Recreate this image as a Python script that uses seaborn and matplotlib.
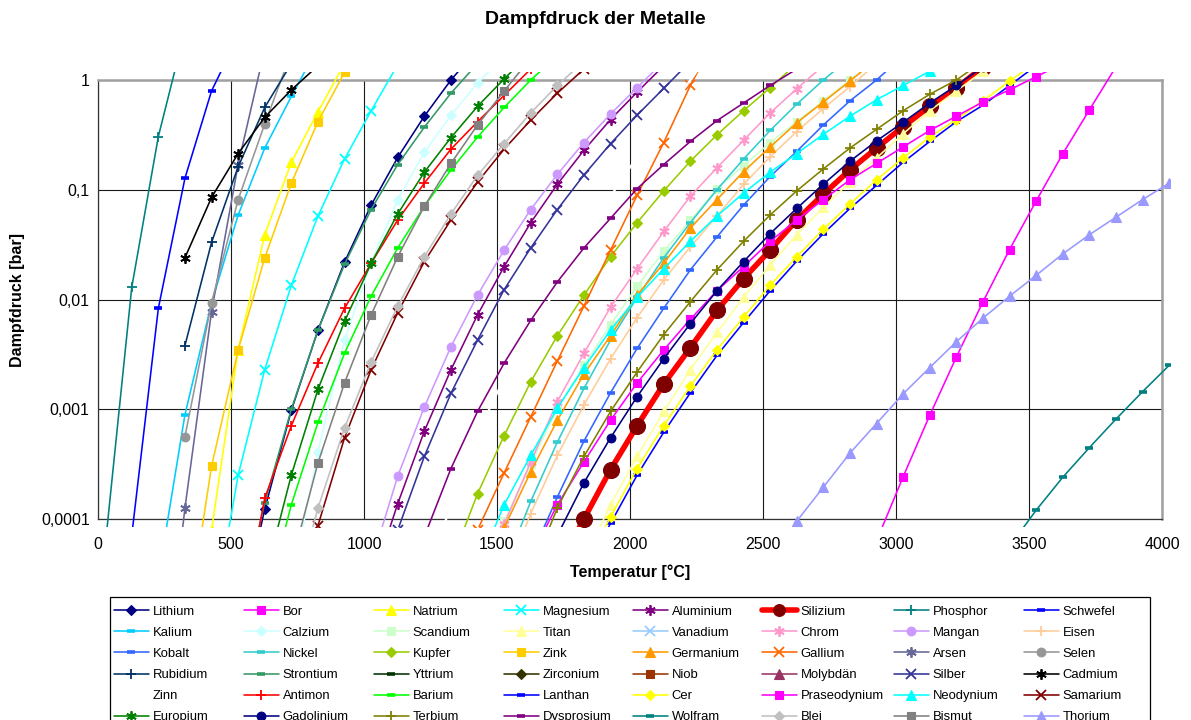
import matplotlib
matplotlib.use("Agg")
import numpy as np
import pandas as pd
import matplotlib.pyplot as plt
import seaborn as sns
from matplotlib.lines import Line2D
from matplotlib.patches import Rectangle

# ---------------------------------------------------------------
# Data: log10 of vapour pressure [bar], one value every 100 K,
# starting at the temperature given in START_K (Kelvin)
# ---------------------------------------------------------------
lithium = [-5.0, -3.91, -3.01, -2.28, -1.66, -1.14, -0.705, -0.33, 0.0, 0.28]
bor = [-4.2, -3.615, -3.055, -2.525, -2.021, -1.545, -1.103, -0.673, -0.273, 0.12]
natrium = [-4.1, -2.46, -1.41, -0.75, -0.29, 0.15]
magnesium = [-5.0, -3.60, -2.64, -1.87, -1.24, -0.72, -0.28, 0.14]
aluminium = [-4.6, -3.86, -3.20, -2.64, -2.14, -1.70, -1.30, -0.95, -0.64, -0.36, -0.11, 0.13]
silizium = [-4.45, -4.0, -3.55, -3.15, -2.77, -2.44, -2.10, -1.81, -1.55, -1.275, -1.04, -0.82,
            -0.62, -0.425, -0.24, -0.075, 0.12]
phosphor = [-4.25, -1.89, -0.515, 0.45]
schwefel = [-4.15, -2.08, -0.895, -0.10, 0.4]
kalium = [-4.53, -3.05, -2.03, -1.23, -0.62, -0.15, 0.3]
calzium = [-4.6, -3.39, -2.37, -1.66, -1.09, -0.66, -0.32, -0.03, 0.22]
scandium = [-4.02, -3.50, -2.99, -2.60, -2.23, -1.88, -1.56, -1.28, -0.99, -0.78, -0.57, -0.38,
            -0.19, 0.0, 0.17]
titan = [-4.38, -3.87, -3.43, -3.02, -2.64, -2.30, -1.98, -1.685, -1.41, -1.16, -0.93, -0.71,
         -0.49, -0.28, -0.10, 0.08, 0.25]
vanadium = []
chrom = [-4.05, -3.48, -2.93, -2.49, -2.07, -1.72, -1.38, -1.06, -0.80, -0.55, -0.30, -0.08, 0.13]
mangan = [-4.4, -3.61, -2.98, -2.43, -1.96, -1.55, -1.18, -0.86, -0.57, -0.31, -0.07, 0.17]
eisen = [-4.55, -3.95, -3.42, -2.96, -2.54, -2.165, -1.82, -1.52, -1.24, -0.95, -0.70, -0.47,
         -0.26, -0.06, 0.15]
kobalt = [-4.35, -3.80, -3.29, -2.85, -2.445, -2.08, -1.73, -1.43, -1.14, -0.88, -0.65, -0.41,
          -0.19, 0.0, 0.22]
nickel = [-4.45, -3.84, -3.30, -2.81, -2.37, -1.98, -1.62, -1.30, -1.00, -0.72, -0.46, -0.22,
          0.0, 0.2]
kupfer = [-4.4, -3.77, -3.24, -2.75, -2.33, -1.96, -1.61, -1.30, -1.01, -0.74, -0.50, -0.28,
          -0.07, 0.15]
zink = [-5.1, -3.52, -2.46, -1.62, -0.94, -0.38, 0.07]
germanium = [-4.08, -3.57, -3.10, -2.68, -2.33, -1.96, -1.67, -1.35, -1.09, -0.835, -0.61, -0.39,
             -0.20, -0.01, 0.19]
gallium = [-4.1, -3.58, -3.07, -2.56, -2.06, -1.55, -1.05, -0.57, -0.05, 0.4]
arsen = [-6.0, -3.90, -2.11, -0.77, 0.28]
selen = [-3.25, -2.03, -1.09, -0.4, 0.25]
rubidium = [-2.42, -1.48, -0.79, -0.25, 0.15]
strontium = [-4.9, -3.85, -3.0, -2.28, -1.68, -1.18, -0.77, -0.43, -0.12, 0.15]
yttrium = []
zirconium = []
niob = []
molybdaen = []
silber = [-4.1, -3.43, -2.855, -2.37, -1.91, -1.53, -1.18, -0.865, -0.58, -0.32, -0.076, 0.17]
cadmium = [-1.62, -1.07, -0.67, -0.34, -0.09, 0.13]
zinn = [-4.55, -3.88, -3.22, -2.72, -2.3, -1.88, -1.47, -1.06, -0.7, -0.34, 0.0, 0.33]
antimon = [-5.1, -3.81, -3.15, -2.58, -2.08, -1.67, -1.275, -0.94, -0.63, -0.38, -0.14, 0.1]
barium = [-4.8, -3.87, -3.12, -2.49, -1.97, -1.53, -1.15, -0.82, -0.52, -0.25, 0.0, 0.22]
lanthan = [-4.5, -4.04, -3.60, -3.21, -2.85, -2.51, -2.21, -1.92, -1.65, -1.40, -1.17, -0.96,
           -0.75, -0.56, -0.38, -0.23, -0.05, 0.13]
cer = [-4.45, -3.98, -3.54, -3.15, -2.79, -2.46, -2.16, -1.87, -1.61, -1.36, -1.13, -0.91,
       -0.71, -0.52, -0.36, -0.19, -0.01, 0.16]
praseodym = [-4.35, -3.87, -3.48, -3.10, -2.76, -2.46, -2.18, -1.92, -1.70, -1.47, -1.275, -1.09,
             -0.91, -0.76, -0.61, -0.46, -0.33, -0.20, -0.09, 0.03, 0.15]
neodym = [-4.45, -3.87, -3.42, -2.99, -2.62, -2.28, -1.98, -1.72, -1.47, -1.24, -1.03, -0.84,
          -0.67, -0.495, -0.33, -0.18, -0.05, 0.08, 0.2]
samarium = [-5.0, -4.06, -3.26, -2.64, -2.12, -1.655, -1.275, -0.93, -0.63, -0.365, -0.12, 0.1]
europium = [-4.54, -3.60, -2.82, -2.20, -1.67, -1.22, -0.84, -0.525, -0.24, 0.01, 0.25]
gadolinium = [-4.15, -3.67, -3.26, -2.885, -2.54, -2.22, -1.92, -1.655, -1.40, -1.17, -0.95, -0.74,
              -0.555, -0.385, -0.21, -0.05, 0.12]
terbium = [-4.5, -3.90, -3.43, -3.02, -2.66, -2.32, -2.02, -1.73, -1.47, -1.23, -1.01, -0.81,
           -0.62, -0.45, -0.28, -0.13, 0.0, 0.17]
dysprosium = [-4.16, -3.54, -3.02, -2.58, -2.19, -1.84, -1.53, -1.26, -0.99, -0.77, -0.56, -0.37,
              -0.21, -0.05, 0.1]
wolfram = [-4.25, -3.92, -3.62, -3.35, -3.09, -2.84, -2.6]
blei = [-4.8, -3.90, -3.17, -2.57, -2.06, -1.61, -1.22, -0.87, -0.58, -0.30, -0.05, 0.17]
bismut = [-4.41, -3.49, -2.76, -2.14, -1.61, -1.15, -0.76, -0.41, -0.10, 0.2]
thorium = [-4.4, -4.02, -3.71, -3.40, -3.13, -2.86, -2.62, -2.385, -2.17, -1.97, -1.78, -1.585,
           -1.41, -1.25, -1.09, -0.94]

NAMES = ["Lithium", "Bor", "Natrium", "Magnesium", "Aluminium", "Silizium", "Phosphor", "Schwefel",
         "Kalium", "Calzium", "Scandium", "Titan", "Vanadium", "Chrom", "Mangan", "Eisen",
         "Kobalt", "Nickel", "Kupfer", "Zink", "Germanium", "Gallium", "Arsen", "Selen",
         "Rubidium", "Strontium", "Yttrium", "Zirconium", "Niob", "Molybdän", "Silber", "Cadmium",
         "Zinn", "Antimon", "Barium", "Lanthan", "Cer", "Praseodynium", "Neodynium", "Samarium",
         "Europium", "Gadolinium", "Terbium", "Dysprosium", "Wolfram", "Blei", "Bismut", "Thorium"]

SERIES = [lithium, bor, natrium, magnesium, aluminium, silizium, phosphor, schwefel,
          kalium, calzium, scandium, titan, vanadium, chrom, mangan, eisen,
          kobalt, nickel, kupfer, zink, germanium, gallium, arsen, selen,
          rubidium, strontium, yttrium, zirconium, niob, molybdaen, silber, cadmium,
          zinn, antimon, barium, lanthan, cer, praseodym, neodym, samarium,
          europium, gadolinium, terbium, dysprosium, wolfram, blei, bismut, thorium]

START_K = [800, 3200, 700, 700, 1300, 2000, 300, 400,
           500, 1000, 1800, 2100, 2100, 1800, 1300, 1800,
           1900, 1800, 1600, 600, 1800, 1700, 500, 600,
           600, 800, 2000, 2600, 2900, 2700, 1400, 600,
           1500, 800, 900, 2100, 2100, 1900, 1700, 1000,
           900, 2000, 1900, 1500, 3700, 1000, 1000, 2800]

COLORS = ["#000080", "#FF00FF", "#FFFF00", "#00FFFF", "#800080", "#FF0000", "#008080", "#0000FF",
          "#00CCFF", "#CCFFFF", "#CCFFCC", "#FFFF99", "#99CCFF", "#FF99CC", "#CC99FF", "#FFCC99",
          "#3366FF", "#33CCCC", "#99CC00", "#FFCC00", "#FF9900", "#FF6600", "#666699", "#969696",
          "#003366", "#339966", "#003300", "#333300", "#993300", "#993366", "#333399", "#000000",
          "#FFFFFF", "#FF0000", "#00FF00", "#0000FF", "#FFFF00", "#FF00FF", "#00FFFF", "#800000",
          "#008000", "#000080", "#808000", "#800080", "#008080", "#C0C0C0", "#808080", "#9999FF"]

MARKERS = ["D", "s", "^", "x", "*", "o", "+", "_",
           "_", "D", "s", "^", "x", "*", "o", "+",
           "_", "_", "D", "s", "^", "x", "*", "o",
           "+", "_", "_", "D", "s", "^", "x", "*",
           "", "+", "_", "_", "D", "s", "^", "x",
           "*", "o", "+", "_", "_", "D", "s", "^"]

X_TICKS = [0, 500, 1000, 1500, 2000, 2500, 3000, 3500, 4000]
Y_TICKS = [1e-4, 1e-3, 1e-2, 1e-1, 1]
Y_TICK_LABELS = ["0,0001", "0,001", "0,01", "0,1", "1"]


def marker_style(m, color):
    base = dict(markerfacecolor=color, markeredgecolor=color)
    if m == "D":
        base.update(marker="D", markersize=4.8, markeredgewidth=0.8)
    elif m == "s":
        base.update(marker="s", markersize=6.3, markeredgewidth=0.8)
    elif m == "^":
        base.update(marker="^", markersize=7.2, markeredgewidth=0.8)
    elif m == "o":
        base.update(marker="o", markersize=6.3, markeredgewidth=0.8)
    elif m == "x":
        base.update(marker="x", markersize=6.5, markeredgewidth=1.3)
    elif m == "+":
        base.update(marker="+", markersize=7.0, markeredgewidth=1.3)
    elif m == "*":
        base.update(marker=(6, 2, 0), markersize=7.5, markeredgewidth=1.3)
    elif m == "_":
        base.update(marker="_", markersize=6.0, markeredgewidth=2.6)
    else:
        base = dict(marker="None")
    return base


sns.set_theme(style="white")
plt.rcParams["font.family"] = ["Liberation Sans", "DejaVu Sans"]
plt.rcParams["text.color"] = "black"
plt.rcParams["axes.labelcolor"] = "black"
plt.rcParams["xtick.color"] = "black"
plt.rcParams["ytick.color"] = "black"

W, H = 1191, 720
fig = plt.figure(figsize=(W / 100, H / 100), dpi=100)
ax = fig.add_axes([98 / W, 1 - 519 / H, 1064 / W, 439 / H])
ax.set_yscale("log")

clip_rect = Rectangle((-8 / 1064, -8 / 439), 1 + 16 / 1064, 1 + 16 / 439,
                      transform=ax.transAxes, visible=False)

handles = []
for name, vals, k0, col, mk in zip(NAMES, SERIES, START_K, COLORS, MARKERS):
    if name == "Silizium":
        st = dict(marker="o", markersize=11.5, markerfacecolor="#800000",
                  markeredgecolor="#800000", markeredgewidth=0.8)
        lw = 4.0
    else:
        st = marker_style(mk, col)
        lw = 1.6 if name == "Zinn" else 1.15
    if vals:
        kelvin = [k0 + 100 * i for i in range(len(vals))]
        df = pd.DataFrame({"T": [k - 273.15 for k in kelvin],
                           "p": [10.0 ** v for v in vals]})
        n_before = len(ax.lines)
        sns.lineplot(data=df, x="T", y="p", ax=ax, color=col, linewidth=lw,
                     sort=False, estimator=None, legend=False, **st)
        for ln in ax.lines[n_before:]:
            ln.set_clip_path(clip_rect)
            ln.set_zorder(3)
    hst = dict(st)
    if name == "Silizium":
        hst["markersize"] = 8.5
    handles.append(Line2D([], [], color=col, linewidth=lw, **hst))

ax.set_xlim(0, 4000)
ax.set_ylim(1e-4, 1)
ax.set_xticks(X_TICKS)
ax.set_xticklabels([str(t) for t in X_TICKS])
ax.set_yticks(Y_TICKS)
ax.set_yticklabels(Y_TICK_LABELS)
ax.minorticks_off()
ax.yaxis.set_minor_locator(matplotlib.ticker.NullLocator())
ax.set_xlabel("")
ax.set_ylabel("")
ax.grid(True, which="major", color="#1a1a1a", linewidth=0.8)
ax.set_axisbelow(True)
ax.tick_params(axis="both", which="major", direction="out", length=4, width=0.8,
               color="#333333", labelsize=11.5, labelcolor="black")
ax.tick_params(axis="x", pad=9)
ax.tick_params(axis="y", pad=2)
for side in ["left", "bottom"]:
    ax.spines[side].set_color("#333333")
    ax.spines[side].set_linewidth(0.9)
for side in ["top", "right"]:
    ax.spines[side].set_color("#a0a0a0")
    ax.spines[side].set_linewidth(1.8)

fig.text(0.5, 1 - 20 / H, "Dampfdruck der Metalle", ha="center", va="center",
         fontsize=14, fontweight="bold", color="black")
fig.text(630 / W, 1 - 572 / H, "Temperatur [°C]", ha="center", va="center",
         fontsize=11.5, fontweight="bold", color="black")
fig.text(18 / W, 1 - 300 / H, "Dampfdruck [bar]", ha="center", va="center",
         rotation=90, fontsize=11.5, fontweight="bold", color="black")

# legend: 8 columns, Excel row-major order
col_x = [114, 244, 374, 504, 633, 762, 894, 1024]
ncol = 8
fs = 9.4
for c in range(ncol):
    idx = [r * ncol + c for r in range(6)]
    leg = fig.legend([handles[i] for i in idx], [NAMES[i] for i in idx],
                     loc="upper left", bbox_to_anchor=(col_x[c] / W, 1 - 605.5 / H),
                     frameon=False, fontsize=fs, borderpad=0, borderaxespad=0,
                     handlelength=2.68, handletextpad=0.27, labelspacing=0.69,
                     numpoints=1, labelcolor="black")
fig.patches.append(Rectangle((110 / W, -0.05), 1040 / W, 1 - 597 / H + 0.05,
                             transform=fig.transFigure, fill=False,
                             edgecolor="black", linewidth=0.9))

fig.savefig("out.png", dpi=100)
